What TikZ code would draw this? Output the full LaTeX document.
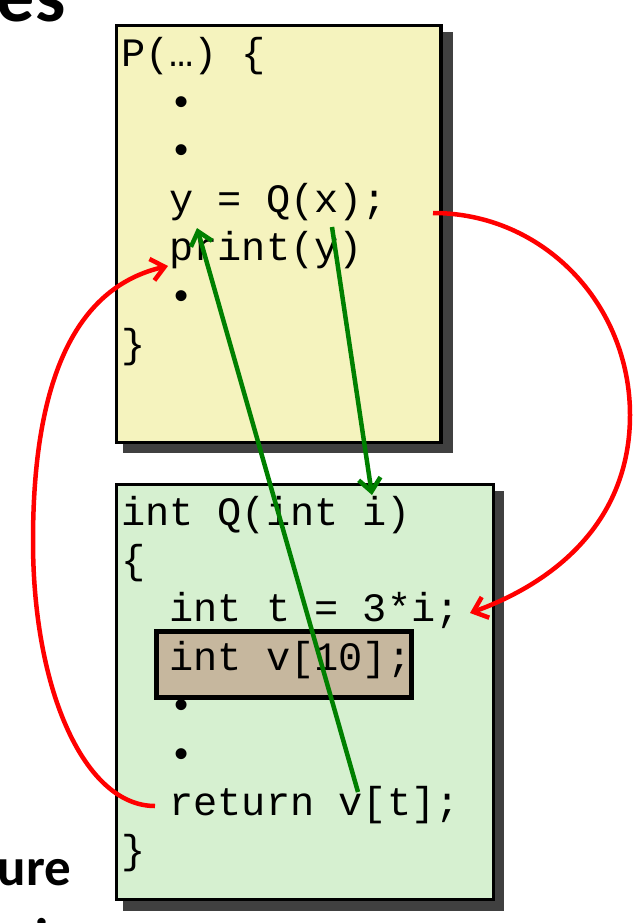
\documentclass[tikz,border=0pt]{standalone}
\usepackage{fontspec}
\newfontfamily\codefont{Liberation Mono}
\newfontfamily\slidefont{Carlito}
\usetikzlibrary{arrows.meta}
\definecolor{pyellow}{RGB}{245,243,190}
\definecolor{qgreen}{RGB}{214,240,208}
\definecolor{vbrown}{RGB}{198,183,158}
\definecolor{shadowgray}{RGB}{64,64,64}
\definecolor{arrowgreen}{RGB}{0,128,0}
\begin{document}
\begin{tikzpicture}[x=1pt,y=1pt,
  code/.style={font=\codefont\fontsize{40.3}{48.4}\selectfont, inner sep=0pt, outer sep=0pt, anchor=base west},
  slidebig/.style={font=\slidefont\bfseries\fontsize{76}{90}\selectfont, inner sep=0pt, outer sep=0pt},
  slidebody/.style={font=\slidefont\bfseries\fontsize{53}{64}\selectfont, inner sep=0pt, outer sep=0pt},
  framebox/.style={draw=black, line width=3.5pt, inner sep=0pt, outer sep=0pt, anchor=north west},
  localbox/.style={draw=black, fill=vbrown, line width=5pt, inner sep=0pt, outer sep=0pt, anchor=north west},
  callarrow/.style={draw=red, line width=4.5pt, -{Straight Barb[length=13pt,width=22pt]}},
  dataarrow/.style={draw=arrowgreen, line width=4.5pt, -{Straight Barb[length=13pt,width=22pt]}},
]
\useasboundingbox (0,0) rectangle (643,-923);
\clip (0,0) rectangle (643,-923);

% cropped slide text
\node[slidebig, anchor=base east] (es) at (65.5,-22) {es};
\node[slidebody, anchor=base west] (ure) at (-2,-885) {ure};
\node[slidebody, anchor=base west] (inext) at (35,-955) {i};

% shadows
\fill[shadowgray] (123,-32) rectangle (453,-453);
\fill[shadowgray] (123,-491) rectangle (504,-911);

% boxes
\node[framebox, fill=pyellow, minimum width=324.5pt, minimum height=417pt] (pbox) at (116.5,-25.5) {};
\node[framebox, fill=qgreen, minimum width=377pt, minimum height=415pt] (qbox) at (116.5,-484.5) {};
\node[localbox, minimum width=255pt, minimum height=66pt] (vbox) at (156,-631) {};

% P code
\node[code] (p1) at (121,-67) {P(…) \{};
\node[code] (p2) at (169.4,-115.4) {•};
\node[code] (p3) at (169.4,-163.8) {•};
\node[code] (p4) at (169.4,-212.2) {y = Q(x);};
\node[code] (p5) at (169.4,-260.6) {print(y)};
\node[code] (p6) at (169.4,-309) {•};
\node[code] (p7) at (121,-357.4) {\}};

% Q code
\node[code] (q1) at (121,-525) {int Q(int i)};
\node[code] (q2) at (121,-573.4) {\{};
\node[code] (q3) at (169.4,-621.8) {int t = 3*i;};
\node[code] (q4) at (169.4,-670.2) {int v[10];};
\node[code] (q5) at (169.4,-718.6) {•};
\node[code] (q6) at (169.4,-767) {•};
\node[code] (q7) at (169.4,-815.4) {return v[t];};
\node[code] (q8) at (121,-863.8) {\}};

% connector end points
\coordinate (callstart) at (433,-213);
\coordinate (callmid) at (630,-415);
\coordinate (calltip) at (470,-613);
\coordinate (retstart) at (155,-806);
\coordinate (retmid) at (33,-541);
\coordinate (rettip) at (168,-266);
\coordinate (argstart) at (332,-227);
\coordinate (argtip) at (372,-495);
\coordinate (valstart) at (358,-792);
\coordinate (valtip) at (197,-228);

% red control-flow arrows
\draw[callarrow] (callstart) to[out=0,in=90] (callmid) to[out=-90,in=20] (calltip);
\draw[callarrow] (retstart) to[out=180,in=-90,out distance=70,in distance=150] (retmid)
  to[out=90,in=193,out distance=170,in distance=90] (rettip);

% green data arrows
\draw[dataarrow] (argstart) -- (argtip);
\draw[dataarrow] (valstart) -- (valtip);
\end{tikzpicture}
\end{document}
